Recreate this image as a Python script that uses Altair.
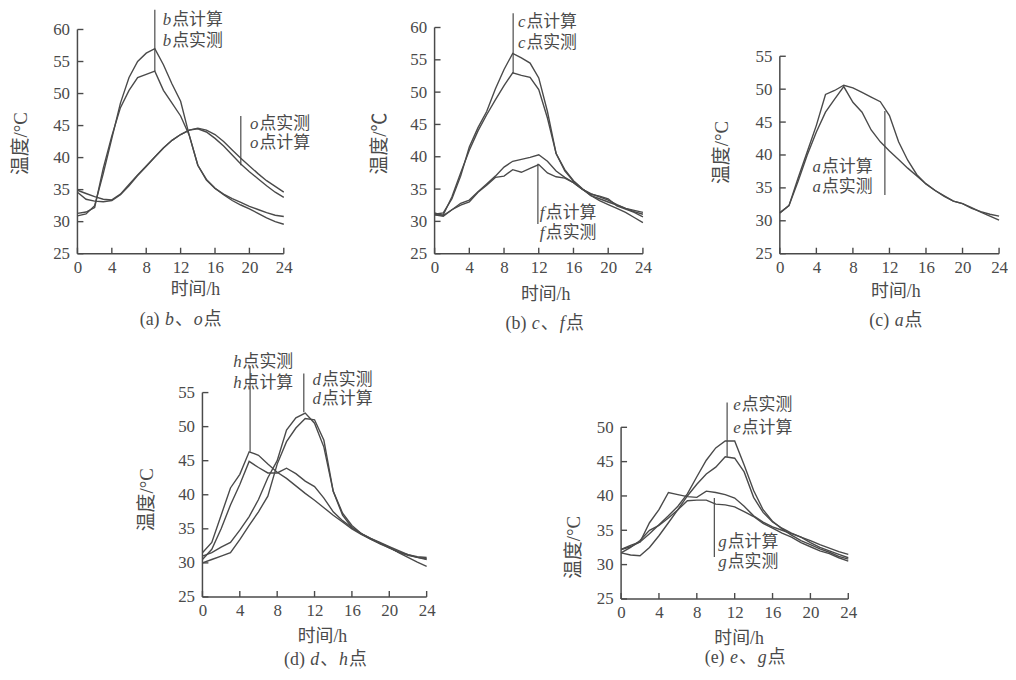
import altair as alt
import pandas as pd

# ---------------- data ----------------
HOURS = list(range(25))
X_TICKS = [0, 4, 8, 12, 16, 20, 24]
Y_TICKS_60 = [25, 30, 35, 40, 45, 50, 55, 60]
Y_TICKS_55 = [25, 30, 35, 40, 45, 50, 55]
Y_TICKS_50 = [25, 30, 35, 40, 45, 50]

# (a) b, o
A_B_CALC = [30.9, 31.2, 32.5, 37.5, 43.0, 48.5, 52.5, 55.0, 56.3, 57.0, 54.5, 51.5, 48.8, 43.5, 38.8, 36.6, 35.2, 34.2, 33.3, 32.6, 32.0, 31.3, 30.6, 30.0, 29.6]
A_B_MEAS = [31.3, 31.5, 32.2, 38.3, 43.4, 47.8, 50.5, 52.5, 53.0, 53.5, 50.5, 48.5, 46.5, 43.5, 38.8, 36.5, 35.2, 34.3, 33.6, 33.0, 32.4, 31.9, 31.4, 31.0, 30.8]
A_O_MEAS = [34.9, 34.4, 33.9, 33.5, 33.4, 34.3, 35.8, 37.3, 38.7, 40.1, 41.5, 42.7, 43.6, 44.3, 44.6, 44.3, 43.6, 42.5, 41.2, 39.9, 38.7, 37.5, 36.4, 35.5, 34.6]
A_O_CALC = [34.6, 33.5, 33.2, 33.1, 33.3, 34.2, 35.6, 37.2, 38.6, 40.1, 41.5, 42.7, 43.6, 44.3, 44.5, 44.0, 43.0, 41.8, 40.4, 39.0, 37.8, 36.7, 35.6, 34.6, 33.8]
# (b) c, f
B_C_CALC = [31.1, 31.3, 33.5, 37.0, 41.5, 44.5, 47.0, 50.5, 53.5, 56.0, 55.3, 54.5, 52.2, 47.0, 40.5, 37.8, 36.2, 35.0, 34.0, 33.5, 33.0, 32.5, 32.0, 31.7, 31.4]
B_C_MEAS = [31.0, 31.0, 33.8, 37.5, 41.0, 44.0, 46.5, 48.8, 51.0, 53.0, 52.6, 52.3, 50.4, 46.0, 40.5, 38.0, 36.3, 35.1, 34.0, 33.2, 32.6, 32.0, 31.4, 30.6, 29.8]
B_F_CALC = [31.0, 30.8, 31.8, 32.8, 33.3, 34.6, 35.8, 37.0, 38.4, 39.3, 39.6, 39.9, 40.3, 39.3, 37.8, 36.8, 36.0, 35.0, 34.3, 33.8, 33.3, 32.6, 32.0, 31.5, 31.1]
B_F_MEAS = [31.3, 30.9, 31.8, 32.5, 33.0, 34.5, 35.6, 36.8, 37.0, 38.0, 37.6, 38.2, 38.8, 37.5, 36.9, 36.7, 36.0, 35.0, 34.2, 33.9, 33.5, 32.4, 31.9, 31.4, 30.7]
# (c) a
C_A_CALC = [31.2, 32.3, 36.5, 40.5, 44.5, 49.2, 49.8, 50.6, 50.2, 49.5, 48.8, 48.1, 46.0, 42.0, 39.2, 37.0, 35.6, 34.6, 33.7, 33.0, 32.6, 31.9, 31.4, 31.0, 30.7]
C_A_MEAS = [31.2, 32.3, 36.0, 40.0, 43.5, 46.5, 48.5, 50.4, 48.0, 46.5, 43.8, 42.0, 40.6, 39.3, 38.0, 36.8, 35.6, 34.6, 33.8, 33.0, 32.6, 32.0, 31.3, 30.7, 30.1]
# (d) d, h
D_H_MEAS = [31.5, 33.0, 37.0, 41.0, 43.0, 46.3, 45.8, 44.5, 43.3, 42.4, 41.3, 40.2, 39.2, 38.1, 37.0, 36.0, 35.0, 34.2, 33.5, 32.8, 32.2, 31.6, 31.2, 30.9, 30.8]
D_H_CALC = [30.5, 32.0, 35.0, 38.5, 41.5, 44.9, 44.0, 43.2, 43.2, 43.9, 43.1, 42.0, 41.2, 39.5, 37.5, 36.2, 35.2, 34.3, 33.6, 33.0, 32.4, 31.8, 31.2, 30.8, 30.5]
D_D_MEAS = [31.0, 31.5, 32.3, 33.0, 34.8, 36.8, 39.3, 42.5, 45.0, 49.5, 51.3, 52.0, 50.5, 47.0, 40.5, 37.3, 35.5, 34.3, 33.6, 32.9, 32.2, 31.6, 31.1, 30.8, 30.6]
D_D_CALC = [30.0, 30.5, 31.0, 31.5, 33.4, 35.5, 37.5, 39.8, 44.5, 47.8, 49.8, 51.2, 51.0, 48.0, 40.5, 37.0, 35.2, 34.3, 33.5, 32.9, 32.3, 31.5, 30.8, 30.1, 29.5]
# (e) e, g
E_E_MEAS = [32.2, 32.6, 33.3, 34.5, 35.8, 37.1, 38.5, 40.3, 42.8, 45.2, 47.0, 48.0, 48.0, 44.5, 40.8, 38.0, 36.3, 35.2, 34.3, 33.5, 32.9, 32.3, 31.8, 31.2, 30.8]
E_E_CALC = [31.7, 32.5, 33.5, 35.0, 35.7, 36.8, 38.0, 40.0, 41.7, 43.2, 44.2, 45.7, 45.5, 43.5, 39.8, 37.6, 36.2, 35.3, 34.6, 34.0, 33.2, 32.5, 32.0, 31.5, 31.0]
E_G_CALC = [32.2, 32.8, 33.3, 36.1, 38.0, 40.5, 40.2, 39.9, 39.8, 40.7, 40.5, 40.2, 39.7, 38.5, 37.1, 36.2, 35.5, 35.0, 34.5, 34.0, 33.5, 32.9, 32.4, 31.9, 31.5]
E_G_MEAS = [31.7, 31.4, 31.3, 32.5, 34.2, 36.1, 38.0, 39.3, 39.4, 39.4, 38.8, 38.7, 38.4, 37.7, 37.0, 36.0, 35.3, 34.6, 34.0, 33.2, 32.6, 32.0, 31.6, 31.0, 30.5]

# ---------------- styling / layout ----------------
FONT = "Liberation Serif, Noto Sans CJK SC"
INK = "#4a4a4a"
FS = 17          # tick labels and curve labels
FS_TITLE = 18    # axis titles and captions
ONE = pd.DataFrame({"k": [0]})

ITALIC_W = {"a": 0.5, "b": 0.5, "c": 0.444, "d": 0.5, "e": 0.444, "f": 0.3, "g": 0.5, "h": 0.5, "o": 0.5}
NORMAL_W = {"(": 0.333, ")": 0.333, " ": 0.25, "a": 0.444, "b": 0.5, "c": 0.444, "d": 0.5, "e": 0.444}


def seg_w(text, italic, size):
    w = 0.0
    for ch in text:
        if italic:
            w += ITALIC_W.get(ch, 0.5)
        elif ord(ch) >= 0x2000:
            w += 1.0
        else:
            w += NORMAL_W.get(ch, 0.5)
    return w * size


def text_layer(text, x, y, size=FS, italic=False, align="left", angle=0):
    return alt.Chart(ONE).mark_text(
        align=align, baseline="middle", font=FONT, fontSize=size,
        fontStyle="italic" if italic else "normal", color=INK, angle=angle,
    ).encode(x=alt.value(x), y=alt.value(y), text=alt.value(text))


def rich(segs, x, y, size=FS, center=False):
    total = sum(seg_w(t, i, size) for t, i in segs) + (len(segs) - 1)
    if center:
        x = x - total / 2
    out = []
    for t, i in segs:
        out.append(text_layer(t, x, y, size=size, italic=i))
        x += seg_w(t, i, size) + 1
    return out


PANEL_A = dict(cw=360, ch=228, px0=0, pw=208, py0=2, ytop=60, yt=Y_TICKS_60,
    series=[A_B_CALC, A_B_MEAS, A_O_MEAS, A_O_CALC],
    leaders=[(9.0, 53.5, 63.1), (19.0, 38.8, 46.5)],
    labels=[("b", "点计算", 86, -8), ("b", "点实测", 86, 14), ("o", "点实测", 174, 97), ("o", "点计算", 174, 116)],
    ytitle=("温度/°C", -57, 117), xtitle=(119, 265),
    caption=([("(a) ", False), ("b", True), ("、", False), ("o", True), ("点", False)], 104, 295))
PANEL_B = dict(cw=348, ch=228, px0=0, pw=210, py0=0, ytop=60, yt=Y_TICKS_60,
    series=[B_C_CALC, B_C_MEAS, B_F_CALC, B_F_MEAS],
    leaders=[(9.05, 52.9, 62.2), (11.9, 29.6, 38.9)],
    labels=[("c", "点计算", 84, -6), ("c", "点实测", 84, 16), ("f", "点计算", 106, 187), ("f", "点实测", 106, 207)],
    ytitle=("温度/℃", -55, 117), xtitle=(112, 270),
    caption=([("(b) ", False), ("c", True), ("、", False), ("f", True), ("点", False)], 111, 299))
PANEL_C = dict(cw=221, ch=228, px0=0, pw=221, py0=29, ytop=55, yt=Y_TICKS_55,
    series=[C_A_CALC, C_A_MEAS],
    leaders=[(11.5, 33.9, 46.7)],
    labels=[("a", "点计算", 33, 141), ("a", "点实测", 33, 161)],
    ytitle=("温度/°C", -58, 126), xtitle=(117, 267),
    caption=([("(c) ", False), ("a", True), ("点", False)], 117, 296))
PANEL_D = dict(cw=548, ch=206, px0=126, pw=226, py0=0, ytop=55, yt=Y_TICKS_55,
    series=[D_H_MEAS, D_H_CALC, D_D_MEAS, D_D_CALC],
    leaders=[(5.1, 46.3, 58.9), (10.85, 52.1, 57.8)],
    labels=[("h", "点实测", 157, -31), ("h", "点计算", 157, -10), ("d", "点实测", 237, -13), ("d", "点计算", 237, 7)],
    ytitle=("温度/°C", 70, 108), xtitle=(247, 246),
    caption=([("(d) ", False), ("d", True), ("、", False), ("h", True), ("点", False)], 250, 270))
PANEL_E = dict(cw=229, ch=208, px0=0, pw=229, py0=35, ytop=50, yt=Y_TICKS_50,
    series=[E_E_MEAS, E_E_CALC, E_G_CALC, E_G_MEAS],
    leaders=[(11.2, 45.7, 53.6), (9.85, 31.1, 39.7)],
    labels=[("e", "点实测", 113, 13), ("e", "点计算", 113, 36), ("g", "点计算", 98, 151), ("g", "点实测", 98, 171)],
    ytitle=("温度/°C", -47, 156), xtitle=(119, 248),
    caption=([("(e) ", False), ("e", True), ("、", False), ("g", True), ("点", False)], 125, 268))


def build_panel(p):
    cw, ch, px0, pw, py0, ytop = p["cw"], p["ch"], p["px0"], p["pw"], p["py0"], p["ytop"]
    kx = pw / 24.0
    ky = (ch - py0) / (ytop - 25.0)
    xs = alt.Scale(domain=[-px0 / kx, (cw - px0) / kx], nice=False, zero=False)
    ys = alt.Scale(domain=[25, 25 + ch / ky], nice=False, zero=False)
    common = dict(title=None, grid=False, domain=False, ticks=False, tickSize=0,
                  labelFont=FONT, labelFontSize=FS, labelColor=INK,
                  labelFlush=False, labelOverlap=False)
    xa = alt.Axis(values=X_TICKS, labelPadding=6, **common)
    ya = alt.Axis(values=p["yt"], labelPadding=8, offset=-px0, **common)

    rows = []
    for si, vals in enumerate(p["series"]):
        for h, v in zip(HOURS, vals):
            rows.append({"hour": h, "temp": v, "s": si})
    df = pd.DataFrame(rows)
    lines = alt.Chart(df).mark_line(color=INK, strokeWidth=1.4).encode(
        x=alt.X("hour:Q", scale=xs, axis=xa),
        y=alt.Y("temp:Q", scale=ys, axis=ya),
        detail="s:N",
    )
    ax_df = pd.DataFrame({"x0": [0, 0], "x1": [24, 0], "y0": [25, 25], "y1": [25, ytop]})
    axes = alt.Chart(ax_df).mark_rule(color=INK, strokeWidth=1.5).encode(
        x=alt.X("x0:Q", scale=xs, axis=xa), x2="x1:Q",
        y=alt.Y("y0:Q", scale=ys, axis=ya), y2="y1:Q",
    )
    xt = alt.Chart(pd.DataFrame({"v": X_TICKS})).mark_rule(color=INK, strokeWidth=1.4).encode(
        x=alt.X("v:Q", scale=xs, axis=xa), y=alt.value(ch), y2=alt.value(ch - 6))
    yt = alt.Chart(pd.DataFrame({"v": p["yt"]})).mark_rule(color=INK, strokeWidth=1.4).encode(
        y=alt.Y("v:Q", scale=ys, axis=ya), x=alt.value(px0), x2=alt.value(px0 + 6))
    ld = pd.DataFrame(p["leaders"], columns=["x", "y0", "y1"])
    leaders = alt.Chart(ld).mark_rule(color=INK, strokeWidth=1.2).encode(
        x=alt.X("x:Q", scale=xs, axis=xa), y=alt.Y("y0:Q", scale=ys, axis=ya), y2="y1:Q")

    layers = [lines, axes, xt, yt, leaders]
    for letter, rest, lx, ly in p["labels"]:
        layers += rich([(letter, True), (rest, False)], lx, ly)
    t, tx, ty = p["ytitle"]
    layers.append(text_layer(t, tx, ty, size=19, align="center", angle=270))
    layers.append(text_layer("时间/h", p["xtitle"][0], p["xtitle"][1], size=FS_TITLE, align="center"))
    segs, cx, cy = p["caption"]
    layers += rich(segs, cx, cy, size=FS_TITLE, center=True)
    return alt.layer(*layers).properties(width=cw, height=ch)


top_row = alt.hconcat(build_panel(PANEL_A), build_panel(PANEL_B), build_panel(PANEL_C),
                      spacing=0, bounds="flush")
bottom_row = alt.hconcat(build_panel(PANEL_D), build_panel(PANEL_E), spacing=0, bounds="flush")

# nested rows have no flush size of their own, so the spacing is the offset
# from the top of the first row of panels to the top of the second row
chart = alt.vconcat(top_row, bottom_row, spacing=368, bounds="flush").properties(
    padding={"left": 4, "top": -2, "right": 0, "bottom": 0}, background="white"
).configure_view(strokeWidth=0)

chart.save("out.html", embed_options={"renderer": "svg", "actions": False})
